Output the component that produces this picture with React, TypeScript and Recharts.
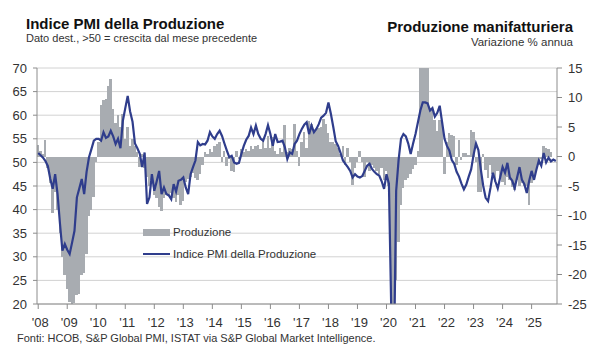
import React from 'react';
import { ComposedChart, Bar, Line, XAxis, YAxis, CartesianGrid } from 'recharts';

const FONT = '"Liberation Sans", Arial, sans-serif';
const BAR_GREY = '#a8acb1';
const PMI_BLUE = '#2f3d8c';
const AXIS_GREY = '#8c8c8c';
const GRID_GREY = '#d2d2d2';
const TEXT = '#333333';

const START_YEAR = 2008;

// Indice PMI della Produzione, monthly, Jan 2008 - Nov 2025 (one row per year)
const pmiOutput = [
  52, 51.5, 51, 50.3, 49.2, 46.5, 44.4, 47.5, 43.3, 37, 31.3, 32.7,
  31.5, 30.6, 33, 35.5, 42.6, 44.5, 46.5, 43.3, 48, 51.1, 52.8, 54.6,
  55, 55, 54.6, 56.4, 55.2, 55.5, 56.7, 55.5, 53.9, 55, 53, 58.8,
  61.5, 64.1, 60.8, 58.6, 54, 53, 51.8, 49, 52.1, 41.2, 42.6, 47.5,
  44, 46, 48.2, 43.3, 44.7, 43.3, 43, 42.2, 45.4, 43.8, 46.1, 46.3,
  46.8, 44.7, 43.3, 47.5, 49, 50.4, 54.3, 53.6, 53.9, 53.8, 54.6, 56.4,
  55.5, 55, 56, 56.7, 55.6, 54, 52.5, 51.1, 51.4, 50, 49.7, 49.9,
  51.8, 53.5, 54.8, 55.6, 57.4, 56, 57.8, 56, 55, 54.6, 56, 57.9,
  56, 53.5, 56, 54.3, 54.4, 54.6, 53.2, 50.7, 52.1, 51.8, 53.9, 54.6,
  56, 57.1, 58, 58.5, 56, 57.8, 56.4, 57.1, 58.1, 59.5, 59.9, 60.5,
  62.7, 60.3, 57.5, 54.5, 53.5, 52, 50.4, 49.7, 49, 48.2, 46.8, 47.5,
  47, 46.8, 47.1, 48.2, 49.3, 49.7, 48.6, 48, 47.5, 47.2, 46, 44.4,
  47.5, 45.5, 18, 4, 44, 50.5, 55, 56, 55.5, 54, 51.8, 54,
  56, 58.5, 61, 62.7, 62.7, 62.5, 61, 61.5, 59.7, 60.5, 62, 58.5,
  55, 53.5, 52.5, 50.5, 49.7, 48, 47, 45.5, 44.3, 45.3, 47, 48.5,
  51.6, 54, 52.6, 48.5, 45, 42.5, 41.8, 44.6, 47.8, 46, 44.5, 46.8,
  49, 47.8, 49.9, 46.8, 46.1, 44.6, 46.8, 49, 46.3, 45.4, 43.5, 46.1,
  48.2, 46.3, 48.5, 50.4, 49.3, 52, 50, 51, 50.2, 50.6, 50.3,
];

// Produzione manifatturiera, % y/y (latest months not yet published)
const production = [
  2, 1, 0.5, 2.8, -2, -4.5, -9.5, -6, -9, -13, -17, -20,
  -22.5, -24.7, -25.3, -24.8, -23.5, -23.3, -20, -19.8, -16.5, -10, -9, -6.9,
  -1, 2.5, 8.7, 9.5, 9.8, 12, 13.2, 8, 5.6, 7, 5, 7.2,
  3, 5, 1.8, 3, 1.8, 0.8, -1.8, 0.5, -2, -3.5, -5, -4,
  -6.5, -7, -8.6, -9.3, -7, -6.5, -6.5, -6.2, -7, -7.7, -6.5, -8.2,
  -7.5, -4.3, -3.8, -3.5, -2.8, -3.7, -4, -3, -1.5, 0.8, 0.5, 1.2,
  0.8, 1.8, 2.2, 2.4, -1, 1, -1.6, -0.5, -2.4, -2.6, 0.9, -0.5,
  1.2, 0.8, 1.3, 1, 1.8, 1.2, 1.8, 2, 1.3, 3.1, 1.5, 3.5,
  1.5, 3.3, 1, 0.5, 1.5, 0.8, 5.3, 0.8, 1.5, 1.2, 5.5, 1,
  -1.6, 2.5, 4.1, 1.5, 6.1, 5.5, 4.5, 4.5, 4.9, 5, 6.4, 5.5,
  4, 2.5, 2.4, 2.1, 1.5, 0.4, 1.7, -1.5, 1.5, -1, -4.9, -2,
  -1, 1, -1, -3.5, -1, -2.5, -1.5, -2, -2.5, -3, -2, -4,
  -2.5, -5, -28.5, -42, -21, -14.5, -8.2, -5.3, -4, -3.7, -3, -2.2,
  -1.5, 1, 38, 79, 21, 15.5, 8.3, 7.9, 6.2, 4.4, 6.2, 6,
  -2.9, 2.5, 3.9, 3.6, 3.5, -1.4, 2.8, -0.6, 0.6, 0.6, 0.3, 4.5,
  4.2, -1, -6, -6, 0.5, -2.3, -3.7, -1.4, -3, -4.3, -2.5, -3.5,
  -4.3, -4.9, -3.5, -4, -5.1, -5.6, -4, -5, -4.5, -5, -5, -8.2,
  -4.5, -3.2, -2.5, -1.4, -0.5, 1.7, 1.4, 1.2, 0.8, null, null,
];

const leftTicks = [20, 25, 30, 35, 40, 45, 50, 55, 60, 65, 70];
const rightTicks = [-25, -20, -15, -10, -5, 0, 5, 10, 15];
const yearLabels = ["'08", "'09", "'10", "'11", "'12", "'13", "'14", "'15", "'16",
  "'17", "'18", "'19", "'20", "'21", "'22", "'23", "'24", "'25"];

const data = pmiOutput.map((pmi, i) => ({
  i,
  month: `${START_YEAR + Math.floor(i / 12)}-${String((i % 12) + 1).padStart(2, '0')}`,
  pmi,
  prod: production[i] ?? null,
}));
const yearTicks = yearLabels.map((_, k) => k * 12);

const LEFT_AXIS_W = 37;
const RIGHT_AXIS_W = 43;
const PLOT_W = 600 - LEFT_AXIS_W - RIGHT_AXIS_W;
const BAND = PLOT_W / data.length;

const tickStyle = { fontSize: 13, fill: TEXT, fontFamily: FONT };

// Recharts rounds the bar width down to whole pixels, leaving white seams.
// Redraw each column over its full month band, snapped to whole pixels, so
// neighbouring months tile without gaps.
function SolidBar(props: any) {
  const { x, y, width, height } = props;
  if (x == null || y == null || !height) return null;
  const cx = x + width / 2;
  const x0 = Math.round(cx - BAND / 2);
  const x1 = Math.round(cx + BAND / 2);
  const top = height < 0 ? y + height : y;
  return (
    <rect
      x={x0}
      y={top}
      width={Math.max(1, x1 - x0)}
      height={Math.abs(height)}
      fill={BAR_GREY}
      shapeRendering="crispEdges"
    />
  );
}

function LegendRow({ top, label, swatch }: { top: number; label: string; swatch: React.ReactNode }) {
  return (
    <div style={{ position: 'absolute', left: 143, top, height: 14, display: 'flex', alignItems: 'center' }}>
      <div style={{ width: 27, display: 'flex', alignItems: 'center' }}>{swatch}</div>
      <span style={{ marginLeft: 3, fontSize: 11.5, color: TEXT, lineHeight: '14px' }}>{label}</span>
    </div>
  );
}

export default function App() {
  return (
    <div style={{ position: 'absolute', left: 0, top: 0, width: 600, height: 360, background: '#fff', fontFamily: FONT }}>
      <div style={{ position: 'absolute', left: 26, top: 16, fontSize: 15, fontWeight: 700, color: '#111', lineHeight: 1 }}>
        Indice PMI della Produzione
      </div>
      <div style={{ position: 'absolute', left: 26, top: 33, fontSize: 11, color: TEXT, lineHeight: 1 }}>
        Dato dest., &gt;50 = crescita dal mese precedente
      </div>
      <div style={{ position: 'absolute', right: 27, top: 19, fontSize: 15, fontWeight: 700, color: '#111', lineHeight: 1, textAlign: 'right' }}>
        Produzione manifatturiera
      </div>
      <div style={{ position: 'absolute', right: 27, top: 37, fontSize: 11.5, color: TEXT, lineHeight: 1, textAlign: 'right' }}>
        Variazione % annua
      </div>

      <ComposedChart
        width={600}
        height={360}
        data={data}
        margin={{ top: 68, right: 0, bottom: 26, left: 0 }}
        barCategoryGap="0%"
        barGap={0}
      >
        <CartesianGrid yAxisId="l" vertical={false} stroke={GRID_GREY} />
        <XAxis
          dataKey="i"
          ticks={yearTicks}
          interval={0}
          tickFormatter={(v: number) => yearLabels[v / 12]}
          tick={{ ...tickStyle, dx: 2 }}
          tickLine={{ stroke: AXIS_GREY }}
          axisLine={{ stroke: AXIS_GREY }}
          tickSize={5}
          tickMargin={9}
          height={30}
        />
        <YAxis
          yAxisId="l"
          domain={[20, 70]}
          ticks={leftTicks}
          interval={0}
          allowDataOverflow
          width={LEFT_AXIS_W}
          tick={tickStyle}
          tickLine={{ stroke: AXIS_GREY }}
          axisLine={{ stroke: AXIS_GREY }}
          tickSize={4}
          tickMargin={6}
        />
        <YAxis
          yAxisId="r"
          orientation="right"
          domain={[-25, 15]}
          ticks={rightTicks}
          interval={0}
          allowDataOverflow
          width={RIGHT_AXIS_W}
          tick={tickStyle}
          tickLine={{ stroke: AXIS_GREY }}
          axisLine={{ stroke: AXIS_GREY }}
          tickSize={5}
          tickMargin={6}
        />
        <Bar yAxisId="r" dataKey="prod" fill={BAR_GREY} shape={SolidBar} isAnimationActive={false} />
        <Line
          yAxisId="l"
          type="linear"
          dataKey="pmi"
          stroke={PMI_BLUE}
          strokeWidth={2.2}
          dot={false}
          activeDot={false}
          isAnimationActive={false}
        />
      </ComposedChart>

      <LegendRow
        top={225}
        label="Produzione"
        swatch={<div style={{ width: 27, height: 7, background: BAR_GREY }} />}
      />
      <LegendRow
        top={247}
        label="Indice PMI della Produzione"
        swatch={<div style={{ width: 27, height: 2.2, background: PMI_BLUE }} />}
      />

      <div style={{ position: 'absolute', left: 17, top: 333, fontSize: 11, color: TEXT, lineHeight: 1 }}>
        Fonti: HCOB, S&amp;P Global PMI, ISTAT via S&amp;P Global Market Intelligence.
      </div>
    </div>
  );
}
